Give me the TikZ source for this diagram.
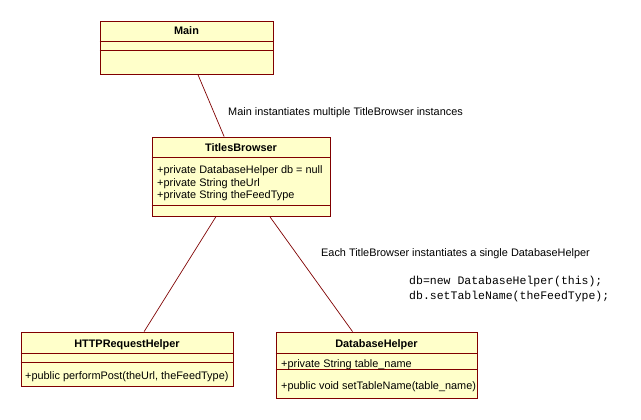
\documentclass[tikz,border=0pt]{standalone}
\usepackage{fontspec}
\setmainfont{Liberation Sans}
\setmonofont{Liberation Mono}
\usepackage{tikz}
\usetikzlibrary{positioning}
\definecolor{umlfill}{RGB}{255,255,202}
\definecolor{umlline}{RGB}{128,0,0}
\tikzset{umlbox/.style = {draw = umlline, fill = umlfill, line width = 0.8pt, inner sep = 0},
  sep/.style = {draw = umlline, line width = 0.8pt},
  assoc/.style = {draw = umlline, line width = 0.7pt},
  title/.style = {anchor = base, inner sep = 0, font = \fontsize{10.9}{13}\selectfont\bfseries},
  member/.style = {anchor = base west, inner sep = 0, font = \fontsize{10.9}{13}\selectfont},
  code/.style = {anchor = base west, inner sep = 0, font = \fontsize{11.5}{14}\selectfont\ttfamily}}

\begin{document}
\begin{tikzpicture}[x=1pt, y=-1pt]
\useasboundingbox [fill=white] (0, 0) rectangle (641, 420);

      % class boxes
      \node [umlbox, minimum width=173pt, minimum height=53pt] (main) at (186.5, 47.5) {};
      \draw [sep] ([yshift=-21pt]main.north west) -- ([yshift=-21pt]main.north east);
      \draw [sep] ([yshift=-30pt]main.north west) -- ([yshift=-30pt]main.north east);
      \node [title] (main-t) at (186.5, 35) {Main};

      \node [umlbox, minimum width=178pt, minimum height=79pt] (tb) at (241, 176.5) {};
      \draw [sep] ([yshift=-21pt]tb.north west) -- ([yshift=-21pt]tb.north east);
      \draw [sep] ([yshift=-69pt]tb.north west) -- ([yshift=-69pt]tb.north east);
      \node [title] (tb-t) at (241, 151) {TitlesBrowser};
      \node [member] (tb-a1) at (157, 173) {+private DatabaseHelper db = null};
      \node [member] (tb-a2) at (157, 186) {+private String theUrl};
      \node [member] (tb-a3) at (157, 199) {+private String theFeedType};

      \node [umlbox, minimum width=212pt, minimum height=54pt] (http) at (127, 359) {};
      \draw [sep] ([yshift=-22pt]http.north west) -- ([yshift=-22pt]http.north east);
      \draw [sep] ([yshift=-31pt]http.north west) -- ([yshift=-31pt]http.north east);
      \node [title] (http-t) at (127, 347) {HTTPRequestHelper};
      \node [member] (http-m1) at (25, 379) {+public performPost(theUrl, theFeedType)};

      \node [umlbox, minimum width=201pt, minimum height=66pt] (dbh) at (376.5, 365) {};
      \draw [sep] ([yshift=-22pt]dbh.north west) -- ([yshift=-22pt]dbh.north east);
      \draw [sep] ([yshift=-38pt]dbh.north west) -- ([yshift=-38pt]dbh.north east);
      \node [title] (dbh-t) at (376.5, 347) {DatabaseHelper};
      \node [member] (dbh-a1) at (281, 367) {+private String table\_name};
      \node [member] (dbh-m1) at (281, 389) {+public void setTableName(table\_name)};

      % associations
      \draw [assoc] (main) -- (tb);
      \draw [assoc] (tb) -- (http);
      \draw [assoc] (tb) -- (dbh);

      % notes
      \node [member] (note1) at (228, 116) {Main instantiates multiple TitleBrowser instances};
      \node [member] (note2) at (321, 256) {Each TitleBrowser instantiates a single DatabaseHelper};
      \node [code] (code1) at (409, 284) {db=new DatabaseHelper(this);};
      \node [code] (code2) at (409, 299) {db.setTableName(theFeedType);};
    \end{tikzpicture}
\end{document}
